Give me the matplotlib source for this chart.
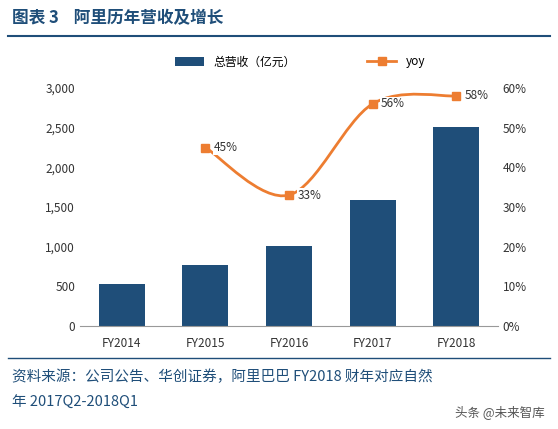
import matplotlib
matplotlib.use("Agg")
import matplotlib.pyplot as plt
import numpy as np
from matplotlib.ticker import FuncFormatter

plt.rcParams['font.family'] = ['Noto Sans CJK SC', 'DejaVu Sans']

years = ["FY2014", "FY2015", "FY2016", "FY2017", "FY2018"]
revenue = [525, 763, 1011, 1583, 2503]
yoy_years = ["FY2015", "FY2016", "FY2017", "FY2018"]
yoy = [45, 33, 56, 58]

W, H = 558, 429
fig = plt.figure(figsize=(W/100, H/100), dpi=100)
ax = fig.add_axes([80/W, 1-326/H, (498-80)/W, (326-88)/H])
x = np.arange(len(years))
ax.bar(x, revenue, width=0.55, color='#1F4E79', label='总营收（亿元）')
ax.set_ylim(0, 3000)
ax.set_yticks(range(0, 3001, 500))
ax.yaxis.set_major_formatter(FuncFormatter(lambda v, p: f"{int(v):,}"))
ax.set_xticks(x)
ax.set_xticklabels(years)
ax.set_xlim(-0.5, 4.5)
for s in ['top', 'right', 'left']:
    ax.spines[s].set_visible(False)
ax.spines['bottom'].set_color('#999999')
ax.tick_params(length=0, labelsize=8.5, colors='#333333')
ax.tick_params(axis='x', pad=8)

ax2 = ax.twinx()
xi = np.array([years.index(y) for y in yoy_years])
# smooth curve through points
from matplotlib.path import Path
import matplotlib.patches as mpatches
pts = np.column_stack([xi, yoy]).astype(float)
verts = [tuple(pts[0])]
codes = [Path.MOVETO]
n = len(pts)
for i in range(n-1):
    p0 = pts[i-1] if i > 0 else pts[i]
    p1, p2 = pts[i], pts[i+1]
    p3 = pts[i+2] if i+2 < n else pts[i+1]
    c1 = p1 + (p2-p0)/6
    c2 = p2 - (p3-p1)/6
    verts += [tuple(c1), tuple(c2), tuple(p2)]
    codes += [Path.CURVE4]*3
ax2.add_patch(mpatches.PathPatch(Path(verts, codes), fill=False, edgecolor='#ED7D31', lw=2))
ax2.plot(xi, yoy, 's', color='#ED7D31', ms=6)
ax2.plot([], [], '-s', color='#ED7D31', lw=2, ms=6, label='yoy')
for xx, v in zip(xi, yoy):
    ax2.text(xx+0.1, v, f"{v}%", fontsize=8.5, va='center', ha='left', color='#333333',
             bbox=dict(facecolor='white', edgecolor='none', pad=0.5))
ax2.set_ylim(0, 60)
ax2.set_yticks(range(0, 61, 10))
ax2.yaxis.set_major_formatter(FuncFormatter(lambda v, p: f"{int(v)}%"))
for s in ['top', 'right', 'left', 'bottom']:
    ax2.spines[s].set_visible(False)
ax2.tick_params(length=0, labelsize=8.5, colors='#333333')

h1, l1 = ax.get_legend_handles_labels()
h2, l2 = ax2.get_legend_handles_labels()
fig.legend(h1+h2, l1+l2, loc='center', bbox_to_anchor=(300/W, 1-62/H), ncol=2,
           frameon=False, fontsize=8.5, columnspacing=6, handlelength=2.5)

fig.text(12/W, 1-18/H, "图表 3    阿里历年营收及增长", fontsize=12, fontweight='bold',
         color='#1F4E79', va='center')
fig.add_artist(plt.Line2D([8/W, 550/W], [1-36/H, 1-36/H], color='#1F4E79', lw=1.5))
fig.add_artist(plt.Line2D([8/W, 550/W], [1-358/H, 1-358/H], color='#1F4E79', lw=1))
fig.text(12/W, 1-377/H, "资料来源：公司公告、华创证券，阿里巴巴 FY2018 财年对应自然",
         fontsize=10.5, color='#1F4E79', style='italic', va='center')
fig.text(12/W, 1-403/H, "年 2017Q2-2018Q1", fontsize=10.5, color='#1F4E79',
         style='italic', va='center')
fig.text(545/W, 1-412/H, "头条 @未来智库", fontsize=9, color='#555555', ha='right', va='center')

fig.savefig("out.png", dpi=100)
